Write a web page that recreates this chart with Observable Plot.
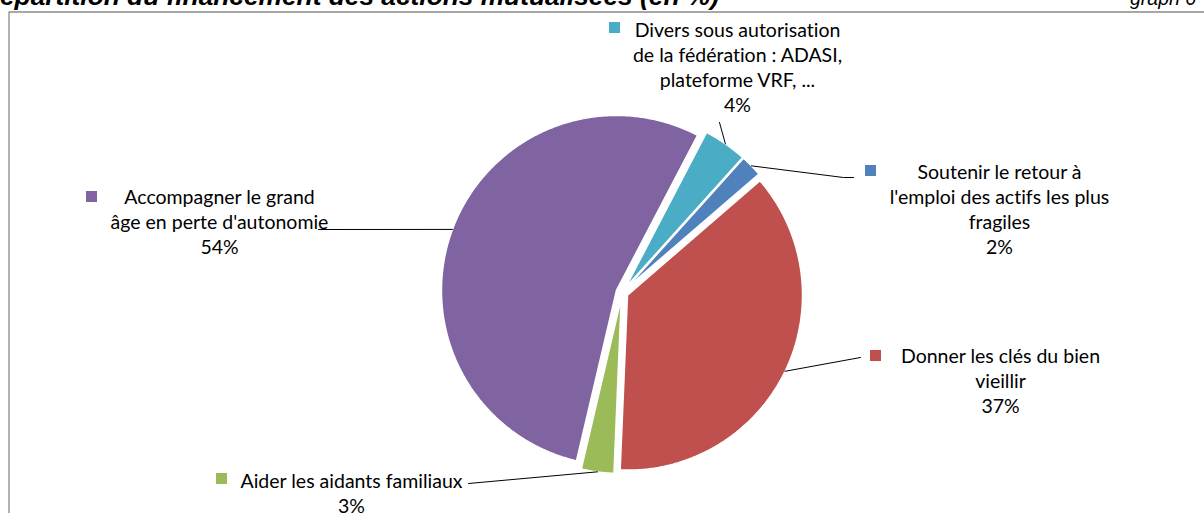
<!DOCTYPE html>
<html><head><meta charset="utf-8">
<script src="https://cdn.jsdelivr.net/npm/d3@7"></script>
<script src="https://cdn.jsdelivr.net/npm/@observablehq/plot@0.6"></script>
<style>
body{margin:0;background:#fff;overflow:hidden;}
#wrap{position:relative;width:1204px;height:513px;overflow:hidden;}
#title{position:absolute;left:-19px;top:-19px;line-height:26px;font:bold italic 26.3px "Liberation Sans",Arial,sans-serif;white-space:nowrap;color:#000;}
#graph{position:absolute;left:1130px;top:-13px;line-height:19px;font:italic 19.5px "Liberation Sans",Arial,sans-serif;white-space:nowrap;color:#000;}
#chart{position:absolute;left:0;top:0;}
</style></head>
<body><div id="wrap"><div id="chart"></div><div id="title">Répartition du financement des actions mutualisées (en %)</div><div id="graph">graph 6</div></div>
<script>
// ---- data ----
const categories = [
  "Soutenir le retour à l'emploi des actifs les plus fragiles",
  "Donner les clés du bien vieillir",
  "Aider les aidants familiaux",
  "Accompagner le grand âge en perte d'autonomie",
  "Divers sous autorisation de la fédération : ADASI, plateforme VRF, ..."
];
const values = [2, 37, 3, 54, 4];
const labelLines = [
  ["Soutenir le retour à", "l'emploi des actifs les plus", "fragiles"],
  ["Donner les clés du bien", "vieillir"],
  ["Aider les aidants familiaux"],
  ["Accompagner le grand", "âge en perte d'autonomie"],
  ["Divers sous autorisation", "de la fédération : ADASI,", "plateforme VRF, ..."]
];
const colors = ["#4F81BD", "#C0504D", "#9BBB59", "#8064A2", "#4BACC6"];

// ---- layout ----
const W = 1204, H = 513;
const cx = 621.6, cy = 292, R = 175, explode = 6, startDeg = 42;
const lineGap = 25.3, sq = 11, fontSize = 19.5;
const layout = [
  {tx: 999, base: 178, sqx: 865, sqy: 165, leader: [[843, 177], [853, 177]]},
  {tx: 1000, base: 362, sqx: 870, sqy: 350, leader: [[860, 357]]},
  {tx: 351, base: 487, sqx: 216, sqy: 473, leader: [[468, 483]]},
  {tx: 219, base: 203, sqx: 86, sqy: 191, leader: [[318, 229]]},
  {tx: 737, base: 36, sqx: 609, sqy: 22, leader: [[719, 122]]}
];

const arcs = d3.pie().sort(null).value(d => d)
  .startAngle(startDeg * Math.PI / 180)
  .endAngle((startDeg + 360) * Math.PI / 180)(values);

const slices = arcs.map((p, i) => {
  const mid = (p.startAngle + p.endAngle) / 2;
  const ox = cx + explode * Math.sin(mid), oy = cy - explode * Math.cos(mid);
  const pts = [[ox, oy]];
  const n = Math.max(2, Math.ceil((p.endAngle - p.startAngle) / (Math.PI / 360)));
  for (let k = 0; k <= n; k++) {
    const a = p.startAngle + (p.endAngle - p.startAngle) * k / n;
    pts.push([ox + R * Math.sin(a), oy - R * Math.cos(a)]);
  }
  pts.push([ox, oy]);
  return {i, pts, anchor: [ox + R * Math.sin(mid), oy - R * Math.cos(mid)]};
});

const texts = [];
labelLines.forEach((lines, i) => {
  const all = [...lines, `${values[i]}%`];
  all.forEach((t, k) => texts.push({x: layout[i].tx, y: layout[i].base + k * lineGap, text: t}));
});

const squares = layout.map((l, i) => ({x1: l.sqx, x2: l.sqx + sq, y1: l.sqy, y2: l.sqy + sq, c: colors[i]}));

const chart = Plot.plot({
  width: W, height: H, margin: 0,
  x: {domain: [0, W], range: [0, W], axis: null},
  y: {domain: [0, H], range: [0, H], axis: null},
  style: {background: "transparent", overflow: "visible", fontVariantLigatures: "none"},
  marks: [
    Plot.line([[8.5, H + 5], [8.5, 11.5], [W + 5, 11.5]], {stroke: "#8a8a8a", strokeWidth: 1.3}),
    ...slices.map(s => Plot.line(s.pts, {fill: colors[s.i], stroke: "white", strokeWidth: 1.5, strokeLinejoin: "miter"})),
    ...slices.map(s => Plot.line([s.anchor, ...layout[s.i].leader], {stroke: "black", strokeWidth: 1})),
    Plot.rect(squares, {x1: "x1", x2: "x2", y1: "y1", y2: "y2", fill: d => d.c}),
    Plot.text(texts, {x: "x", y: "y", text: "text", lineAnchor: "bottom", textAnchor: "middle",
      fontSize, fontFamily: "Lato, 'Open Sans', sans-serif", fill: "#000"})
  ]
});
document.getElementById("chart").appendChild(chart);
</script>
</body></html>
